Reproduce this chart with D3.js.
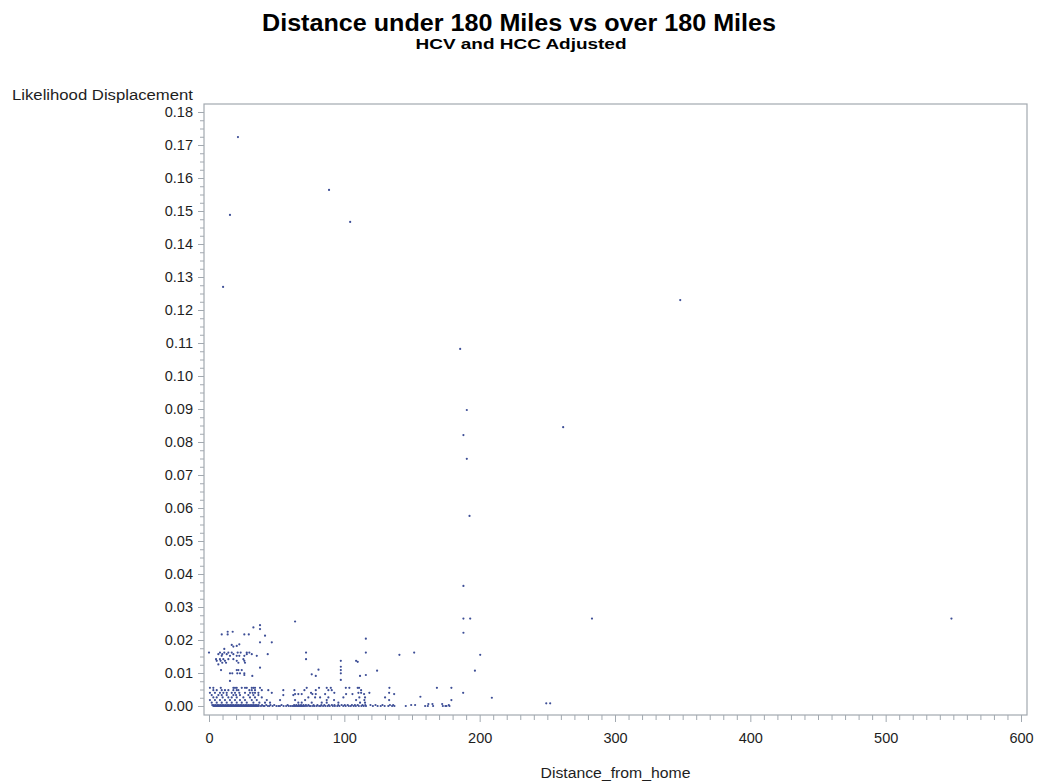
<!DOCTYPE html>
<html>
<head>
<meta charset="utf-8">
<script src="https://cdn.jsdelivr.net/npm/d3@7"></script>
<style>
  body { margin: 0; background: #fff; }
  text { font-family: "Liberation Sans", Arial, sans-serif; }
</style>
</head>
<body>
<svg id="chart" width="1038" height="783"></svg>
<script>
// Titles and axis labels
const titleText = "Distance under 180 Miles vs over 180 Miles";
const subtitleText = "HCV and HCC Adjusted";
const yLabel = "Likelihood Displacement";
const xLabel = "Distance_from_home";

// Axis ticks
const xTicks = [0, 100, 200, 300, 400, 500, 600];
const yTicks = [0, 0.01, 0.02, 0.03, 0.04, 0.05, 0.06, 0.07, 0.08, 0.09, 0.10,
                0.11, 0.12, 0.13, 0.14, 0.15, 0.16, 0.17, 0.18];

// Isolated observations: [distance, displacement]
const outlierPoints = [
  [21.4, 0.1724], [88.7, 0.1564], [15.5, 0.1488], [104.3, 0.1467], [10.4, 0.1270],
  [348.2, 0.1230], [185.6, 0.1082], [190.5, 0.0897], [261.7, 0.0845], [188.0, 0.0821],
  [190.5, 0.0749], [192.5, 0.0576], [188.0, 0.0364], [188.0, 0.0265], [193.0, 0.0265],
  [283.0, 0.0265], [548.6, 0.0265], [188.0, 0.0222], [200.4, 0.0155], [196.5, 0.0107],
  [187.8, 0.0040], [209.0, 0.0025], [249.2, 0.0008], [252.1, 0.0008]
];

// Short-distance cluster between 0.017 and 0.026: [distance, displacement]
const clusterPoints = [
  [63.6, 0.0256], [37.7, 0.0245], [32.8, 0.0238], [37.7, 0.0233], [13.8, 0.0225],
  [17.5, 0.0225], [9.4, 0.0217], [13.8, 0.0217], [26.1, 0.0217], [29.4, 0.0217],
  [41.4, 0.0213], [115.9, 0.0204], [46.4, 0.0193], [37.7, 0.0193], [22.4, 0.0187],
  [16.8, 0.0185], [20.5, 0.0182], [18.0, 0.0180], [11.3, 0.0173]
];

// Observations grouped by displacement level: [displacement, distances]
const upperRows = [
  [0.0162, [0, 8.1, 11.3, 14.3, 16.8, 21.2, 23.4, 27.9, 29.8, 71.7, 115.9, 151.6]],
  [0.0157, [6.9, 9.8, 13.1, 18.0, 27.9, 31.6, 43.4]],
  [0.0155, [140.7]],
  [0.0152, [9.4, 15.5, 20.5, 22.4, 26.1, 35.3]],
  [0.0142, [5.2, 8.1, 10.6, 14.3, 18.0, 25.4, 71.7]],
  [0.0137, [5.7, 8.6, 11.8, 20.5, 26.1, 97.4, 108.7]],
  [0.0134, [109.9]],
  [0.0131, [9.8, 12.6, 21.7, 26.6]],
  [0.0126, [6.9]],
  [0.0119, [97.4]],
  [0.0116, [37.7]],
  [0.0110, [80.9]],
  [0.0109, [8.9, 20.5, 21.7, 24.2, 97.4]],
  [0.0107, [124.2]],
  [0.0099, [15.5, 17.2, 20.9, 22.9, 26.1, 97.4]],
  [0.0096, [75.9]],
  [0.0094, [26.1, 115.9]],
  [0.0091, [32.0, 78.9, 111.6]],
  [0.0079, [97.4]],
  [0.0076, [15.5]]
];

const lowerRows = [
  [0.0055, [0.7, 3.2, 8.7, 18.0, 19.2, 20.5, 24.2, 26.6, 27.9, 31.6, 32.8, 34.0, 37.7,
            72.2, 81.3, 87.0, 90.0, 101.1, 103.7, 109.9, 110.9, 133.3, 168.4, 179.1]],
  [0.0048, [3.2, 5.7, 9.4, 11.8, 14.3, 18.0, 20.5, 21.7, 29.8, 31.6, 34.0, 39.0, 43.8,
            54.9, 63.1, 70.5, 78.9, 88.2, 90.7, 112.4]],
  [0.0040, [0.7, 4.4, 8.1, 10.6, 13.1, 16.8, 19.2, 22.4, 26.6, 30.3, 32.3, 34.0, 36.5,
            46.4, 75.4, 92.6, 110.4, 112.4, 118.5, 133.1]],
  [0.0036, [63.6, 66.0, 68.5, 76.4, 78.9, 85.8, 101.3, 106.0, 114.6, 136.8]],
  [0.0033, [2.0, 6.9, 9.4, 13.1, 18.0, 20.0, 22.9, 29.1, 32.8, 36.5, 54.9, 62.3]],
  [0.0028, [156.2]],
  [0.0026, [3.2, 5.7, 10.1, 14.3, 16.8, 20.5, 25.4, 30.3, 34.0, 39.0, 73.4, 78.4, 82.1,
            88.2, 99.3, 111.1, 115.3, 130.1]],
  [0.0018, [0.7, 4.4, 8.1, 11.8, 15.5, 19.2, 22.9, 26.6, 31.6, 35.3, 42.7, 52.5, 63.6,
            71.0, 87.0, 92.4, 108.7, 114.8, 133.1, 179.1]],
  [0.0010, [2.0, 5.7, 9.4, 13.1, 16.8, 20.5, 24.2, 27.9, 32.8, 37.2, 41.4, 45.1, 66.0,
            68.5, 75.9, 83.3, 87.0, 95.6, 111.6, 115.3]]
];

// Observations at (almost) zero displacement
const nearZeroDistances = [
  2.4, 3.6, 4.8, 6.1, 7.3, 8.5, 9.7, 10.9, 12.1, 13.4, 14.6, 15.8, 17.0, 18.2, 19.5,
  20.7, 21.9, 23.1, 24.3, 25.6, 26.8, 28.0, 29.2, 30.4, 31.7, 32.9, 34.1, 35.3, 36.6,
  39.2, 42.3, 45.4, 48.2, 53.6, 58.1, 62.9, 64.5, 66.3, 68.0, 69.8, 71.6, 73.5, 77.3,
  80.1, 83.0, 85.2, 88.5, 90.8, 92.7, 95.5, 98.0, 100.3, 102.5, 105.6, 107.8, 109.9,
  113.4, 115.5, 119.3, 123.0, 128.2, 133.7, 136.1, 149.4, 152.3, 162.1, 165.1, 172.3, 177.2
];
const nearZeroDisplacement = [
  0.0003, 0.0003, 0.0003, 0.0003, 0.0003, 0.0003, 0.0003, 0.0003, 0.0003, 0.0003, 0.0003,
  0.0003, 0.0003, 0.0003, 0.0003, 0.0003, 0.0003, 0.0003, 0.0003, 0.0003, 0.0003, 0.0003,
  0.0003, 0.0003, 0.0003, 0.0003, 0.0003, 0.0003, 0.0003, 0.0003, 0.0003, 0.0003, 0.0003,
  0.0003, 0.0003, 0.0003, 0.0003, 0.0003, 0.0003, 0.0003, 0.0003, 0.0003, 0.0003, 0.0003,
  0.0003, 0.0003, 0.0003, 0.0003, 0.0003, 0.0003, 0.0003, 0.0003, 0.0003, 0.0003, 0.0003,
  0.0003, 0.0003, 0.0003, 0.0003, 0.0003, 0.0003, 0.0003, 0.0003, 0.0003, 0.0003, 0.0006,
  0.0006, 0.0006, 0.0003
];
const zeroDistances = [
  3.2, 3.9, 4.6, 5.3, 6.0, 6.7, 7.4, 8.1, 8.8, 9.5, 10.2, 10.9, 11.6, 12.3, 13.0, 13.7,
  14.4, 15.1, 15.8, 16.5, 17.2, 17.9, 18.6, 19.3, 20.0, 20.7, 21.4, 22.1, 22.8, 23.5,
  24.2, 24.9, 25.6, 26.3, 27.0, 27.7, 28.4, 29.1, 29.8, 30.5, 31.2, 31.9, 32.6, 33.3,
  34.0, 34.7, 35.4, 36.1, 36.8, 38.4, 40.1, 41.0, 43.5, 44.6, 47.0, 49.8, 51.3, 52.4,
  55.1, 57.0, 58.9, 60.3, 61.5, 62.6, 63.4, 64.2, 65.1, 65.9, 66.7, 67.6, 68.4, 69.3,
  70.1, 71.0, 72.4, 74.1, 75.2, 76.8, 78.0, 79.6, 81.4, 82.5, 84.3, 86.0, 87.7, 89.2,
  91.5, 93.0, 94.8, 96.4, 99.2, 101.0, 103.3, 104.8, 106.9, 108.5, 110.7, 112.6, 114.3,
  116.0, 121.1, 124.6, 126.9, 129.8, 132.5, 135.3, 137.0, 145.4, 159.7, 161.7, 165.6,
  172.8, 174.7, 175.5, 177.7
];

// Assemble one list of [distance, displacement]
const points = []
  .concat(outlierPoints, clusterPoints)
  .concat(upperRows.flatMap(([v, xs]) => xs.map(d => [d, v])))
  .concat(lowerRows.flatMap(([v, xs]) => xs.map(d => [d, v])))
  .concat(nearZeroDistances.map((d, i) => [d, nearZeroDisplacement[i]]))
  .concat(zeroDistances.map(d => [d, 0]));

const svg = d3.select("#chart");
const frame = { left: 204, right: 1027, top: 104, bottom: 715 };

const x = d3.scaleLinear().domain([0, 600]).range([209, 1021]);
const y = d3.scaleLinear().domain([0, 0.18]).range([706, 112]);

const axisColor = "#a2a9b0";
const labelColor = "#1e1e1e";

// Titles
svg.append("text")
  .attr("x", 519).attr("y", 31)
  .attr("text-anchor", "middle")
  .attr("font-size", 23).attr("font-weight", "bold")
  .attr("textLength", 514).attr("lengthAdjust", "spacingAndGlyphs")
  .attr("fill", "#000")
  .text(titleText);
svg.append("text")
  .attr("x", 521).attr("y", 49)
  .attr("text-anchor", "middle")
  .attr("font-size", 15).attr("font-weight", "bold")
  .attr("textLength", 211).attr("lengthAdjust", "spacingAndGlyphs")
  .attr("fill", "#000")
  .text(subtitleText);

// Y axis title, placed above the axis
svg.append("text")
  .attr("x", 193).attr("y", 100)
  .attr("text-anchor", "end")
  .attr("font-size", 14)
  .attr("textLength", 181).attr("lengthAdjust", "spacingAndGlyphs")
  .attr("fill", labelColor)
  .text(yLabel);

// X axis title
svg.append("text")
  .attr("x", (frame.left + frame.right) / 2).attr("y", 778)
  .attr("text-anchor", "middle")
  .attr("font-size", 14)
  .attr("textLength", 150).attr("lengthAdjust", "spacingAndGlyphs")
  .attr("fill", labelColor)
  .text(xLabel);

// Minor ticks
const yMinor = d3.range(0, 73).map(i => i * 0.0025).filter((v, i) => i % 4 !== 0);
const xMinor = d3.range(0, 61).map(i => i * 10).filter(v => v % 100 !== 0);

const yMinorAxis = svg.append("g")
  .attr("transform", `translate(${frame.left},0)`)
  .call(d3.axisLeft(y).tickValues(yMinor).tickFormat("").tickSize(4));
const xMinorAxis = svg.append("g")
  .attr("transform", `translate(0,${frame.bottom})`)
  .call(d3.axisBottom(x).tickValues(xMinor).tickFormat("").tickSize(5));

// Major axes
const yAxis = svg.append("g")
  .attr("transform", `translate(${frame.left},0)`)
  .call(d3.axisLeft(y).tickValues(yTicks).tickFormat(d3.format(".2f")).tickSize(6).tickPadding(5));
const xAxis = svg.append("g")
  .attr("transform", `translate(0,${frame.bottom})`)
  .call(d3.axisBottom(x).tickValues(xTicks).tickFormat(d3.format("d")).tickSize(7).tickPadding(11));

[yMinorAxis, xMinorAxis, yAxis, xAxis].forEach(g => {
  g.select(".domain").remove();
  g.selectAll("line").attr("stroke", axisColor);
  g.selectAll("text")
    .attr("font-family", '"Liberation Sans", Arial, sans-serif')
    .attr("font-size", 14.5)
    .attr("fill", labelColor);
});

// Plot frame
svg.append("rect")
  .attr("x", frame.left).attr("y", frame.top)
  .attr("width", frame.right - frame.left)
  .attr("height", frame.bottom - frame.top)
  .attr("fill", "none")
  .attr("stroke", axisColor)
  .attr("stroke-width", 1.2);

// Scatter markers
svg.append("g")
  .selectAll("circle")
  .data(points)
  .join("circle")
  .attr("cx", d => x(d[0]))
  .attr("cy", d => y(d[1]))
  .attr("r", 1.1)
  .attr("fill", "#3d4e96");
</script>
</body>
</html>
